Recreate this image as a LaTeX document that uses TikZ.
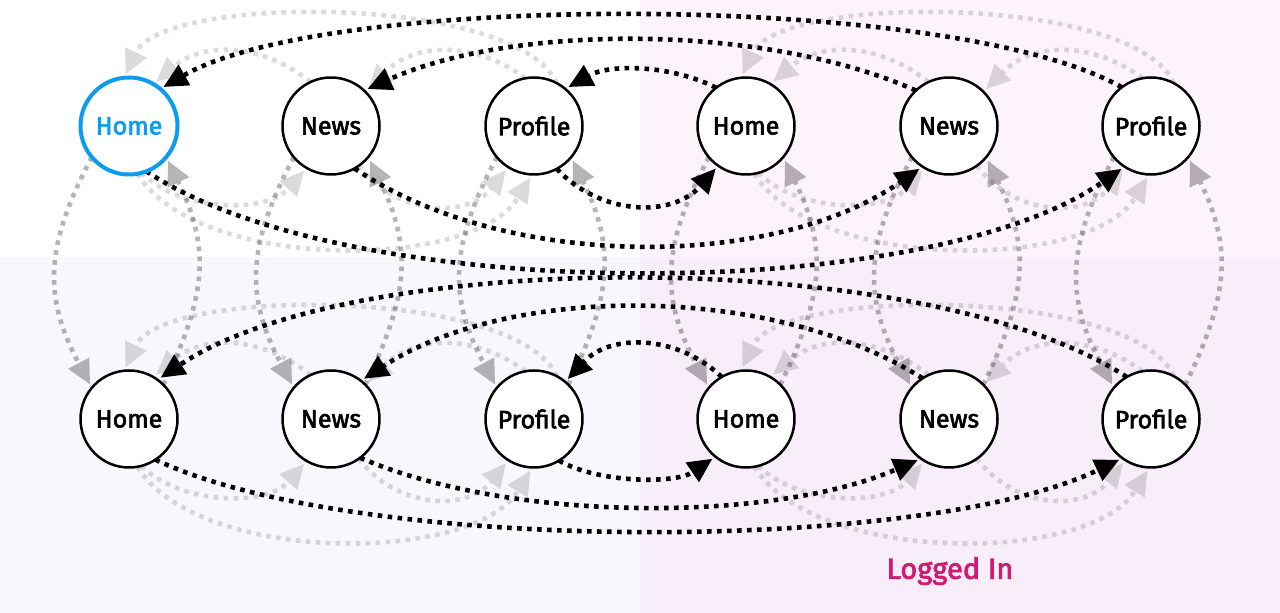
\documentclass[tikz,border=0pt]{standalone}
\usepackage{fontspec}
\setmainfont{Fira Sans}
\newfontfamily\nodefont{Fira Sans}[FakeBold=2.5]
\usetikzlibrary{arrows.meta}
\definecolor{bgTR}{HTML}{FDF4FB}
\definecolor{bgBL}{HTML}{F8F7FE}
\definecolor{bgBR}{HTML}{F8EEFA}
\definecolor{homeblue}{HTML}{0A9CF0}
\definecolor{logmag}{HTML}{D11A70}
\pgfdeclarelayer{bg}
\pgfdeclarelayer{edges}
\pgfsetlayers{bg,edges,main}
\tikzset{
  page/.style={circle, draw=black, line width=2.5pt, fill=white, minimum size=97pt,
    inner sep=0pt, outer sep=0pt, font=\nodefont\fontsize{25}{30}\selectfont},
  startpage/.style={page, draw=homeblue, line width=4pt, text=homeblue},
  edge/.style={line width=4.6pt, dash pattern=on 4.6pt off 5.4pt, shorten >=4pt,
    -{Triangle[length=24pt,width=24pt,line width=0pt]}},
  blk/.style={edge, draw=black},
  mid/.style={edge, draw=black, opacity=0.29},
  lite/.style={edge, draw=black, opacity=0.14},
}
\newcommand\litegroup[3]{%
  \draw[lite] (#2.115) .. controls +(-50,40) and +(50,42) .. (#1.60);
  \draw[lite] (#3.100) .. controls +(-50,37) and +(50,50) .. (#2.45);
  \draw[lite] (#3.62) .. controls +(-40,89) and +(40,84) .. (#1.96);
  \draw[lite] (#1.-75) .. controls +(40,-40) and +(-40,-45) .. (#2.-120);
  \draw[lite] (#2.-55) .. controls +(40,-52) and +(-40,-50) .. (#3.-122);
  \draw[lite] (#1.-80) .. controls +(60,-98) and +(-60,-97) .. (#3.-92);
}
\begin{document}
\begin{tikzpicture}[x=1pt,y=1pt]
\useasboundingbox (0,0) rectangle (1280,613);
\begin{pgfonlayer}{bg}
  \fill[white] (0,0) rectangle (1280,613);
  \fill[bgTR] (640,356) rectangle (1280,613);
  \fill[bgBL] (0,0) rectangle (640,356);
  \fill[bgBR] (640,0) rectangle (1280,356);
\end{pgfonlayer}

% nodes
\node[startpage] (t1) at (129,487) {Home};
\node[page] (t2) at (331,487) {News};
\node[page] (t3) at (534,487) {Profile};
\node[page] (t4) at (746,487) {Home};
\node[page] (t5) at (949,487) {News};
\node[page] (t6) at (1151,487) {Profile};
\node[page] (b1) at (129,194) {Home};
\node[page] (b2) at (331,194) {News};
\node[page] (b3) at (534,194) {Profile};
\node[page] (b4) at (746,194) {Home};
\node[page] (b5) at (949,194) {News};
\node[page] (b6) at (1151,194) {Profile};

\node[font=\nodefont\fontsize{29}{34}\selectfont, text=logmag] (logged) at (950,42) {Logged In};

\begin{pgfonlayer}{edges}
  % light within-group transitions
  \litegroup{t1}{t2}{t3}
  \litegroup{t4}{t5}{t6}
  \litegroup{b1}{b2}{b3}
  \litegroup{b4}{b5}{b6}
  % vertical transitions
  \foreach \i in {1,...,6} {
    \draw[mid] (t\i.-140) .. controls +(-48,-90) and +(-48,90) .. (b\i.140);
    \draw[mid] (b\i.45) .. controls +(44,90) and +(44,-90) .. (t\i.-40);
  }
  % black transitions, top row
  \draw[blk] (t4.128) .. controls +(-45,23) and +(45,25) .. (t3.50);
  \draw[blk] (t5.133) .. controls +(-150,67) and +(150,67) .. (t2.47);
  \draw[blk] (t6.127) .. controls +(-170,96) and +(170,97) .. (t1.50);
  \draw[blk] (t3.-62) .. controls +(45,-48) and +(-45,-51) .. (t4.-125);
  \draw[blk] (t2.-61) .. controls +(150,-102) and +(-150,-104) .. (t5.-123);
  \draw[blk] (t1.-69) .. controls +(200,-134) and +(-200,-139) .. (t6.-123);
  % black transitions, bottom row
  \draw[blk] (b4.120) .. controls +(-45,43) and +(45,48) .. (b3.50);
  \draw[blk] (b5.123) .. controls +(-150,95) and +(150,97) .. (b2.52);
  \draw[blk] (b6.120) .. controls +(-200,131) and +(200,133) .. (b1.54);
  \draw[blk] (b3.-59) .. controls +(40,-23) and +(-40,-27) .. (b4.-129);
  \draw[blk] (b2.-53) .. controls +(150,-65) and +(-150,-64) .. (b5.-125);
  \draw[blk] (b1.-57) .. controls +(200,-95) and +(-200,-96) .. (b6.-126);
\end{pgfonlayer}
\end{tikzpicture}
\end{document}
